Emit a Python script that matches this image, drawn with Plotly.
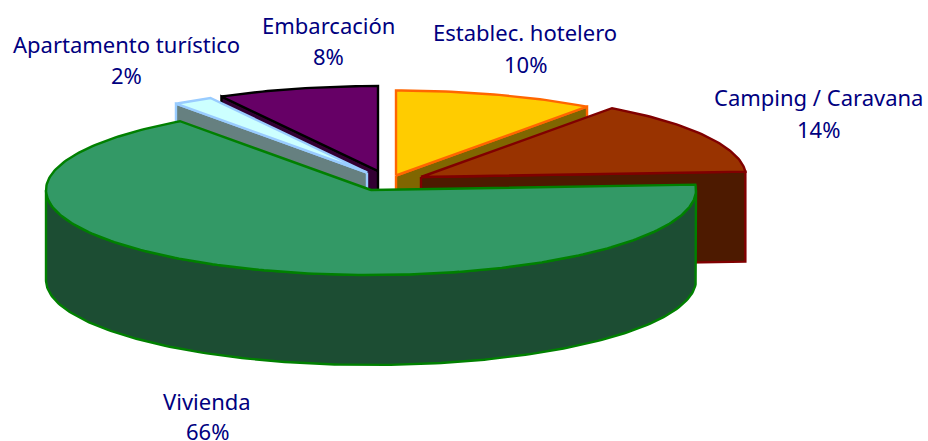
import numpy as np
import plotly.graph_objects as go

# Data (clockwise from the top of the pie)
categories = ["Establec. hotelero", "Camping / Caravana", "Vivienda", "Apartamento turístico", "Embarcación"]
values = [10, 14, 66, 2, 8]

# Style
fills = ["#ffcc00", "#993300", "#339966", "#ccffff", "#660066"]
walls = ["#806600", "#4d1a00", "#1c4d33", "#668080", "#330033"]
edges = ["#ff6600", "#800000", "#008000", "#99ccff", "#000000"]
centres = [(396, 175.5), (421, 177), (371, 190), (367, 172.5), (378, 171)]
label_pos = [(525, 32, 64), (818, 97, 129), (207, 401, 431), (126, 44, 75), (328, 25, 56)]
cut_face = ["end", "end", None, "start", "start"]  # radial face looking at the viewer
draw_order = [4, 0, 1, 3, 2]
RX, RY, DEPTH = 325, 85, 90
START_ANGLE = 90.0

ends = START_ANGLE - np.cumsum(values) * 3.6
starts = np.concatenate([[START_ANGLE], ends[:-1]])


def rim(cx, cy, a0, a1):
    t = np.radians(np.linspace(a0, a1, max(int(abs(a1 - a0)) + 2, 2)))
    return cx + RX * np.cos(t), cy - RY * np.sin(t)


fig = go.Figure()


def poly(xs, ys, fill, edge):
    fig.add_trace(go.Scatter(x=np.append(xs, xs[0]), y=np.append(ys, ys[0]), mode="lines",
                             fill="toself", fillcolor=fill,
                             line=dict(color=edge, width=2.4), hoverinfo="skip", showlegend=False))


for i in draw_order:
    cx, cy = centres[i]
    a0, a1 = starts[i], ends[i]  # a0 > a1, clockwise
    if cut_face[i] is None:
        # Largest slice: curved outer wall along the front of the pie
        x, y = rim(cx, cy, -180, 0)
        poly(np.concatenate([x, x[::-1]]), np.concatenate([y, y[::-1] + DEPTH]), walls[i], edges[i])
    else:
        a = np.radians(a1 if cut_face[i] == "end" else a0)
        rx, ry = cx + RX * np.cos(a), cy - RY * np.sin(a)
        poly(np.array([cx, rx, rx, cx]), np.array([cy, ry, ry + DEPTH, cy + DEPTH]), walls[i], edges[i])
    x, y = rim(cx, cy, a0, a1)
    poly(np.concatenate([[cx], x]), np.concatenate([[cy], y]), fills[i], edges[i])

for cat, val, (lx, y1, y2) in zip(categories, values, label_pos):
    for text, ly in ((cat, y1), (f"{val}%", y2)):
        fig.add_annotation(x=lx, y=ly, text=text, showarrow=False, xanchor="center", yanchor="middle",
                           font=dict(family="Noto Sans", size=22, color="#000080"))

fig.update_layout(width=928, height=441, margin=dict(l=0, r=0, t=0, b=0),
                  paper_bgcolor="white", plot_bgcolor="white", showlegend=False,
                  xaxis=dict(range=[0, 928], visible=False),
                  yaxis=dict(range=[441, 0], visible=False))
fig.write_html("out.html", config={"displayModeBar": False},
               post_script="document.body.style.margin='0';document.documentElement.style.overflow='hidden';")
